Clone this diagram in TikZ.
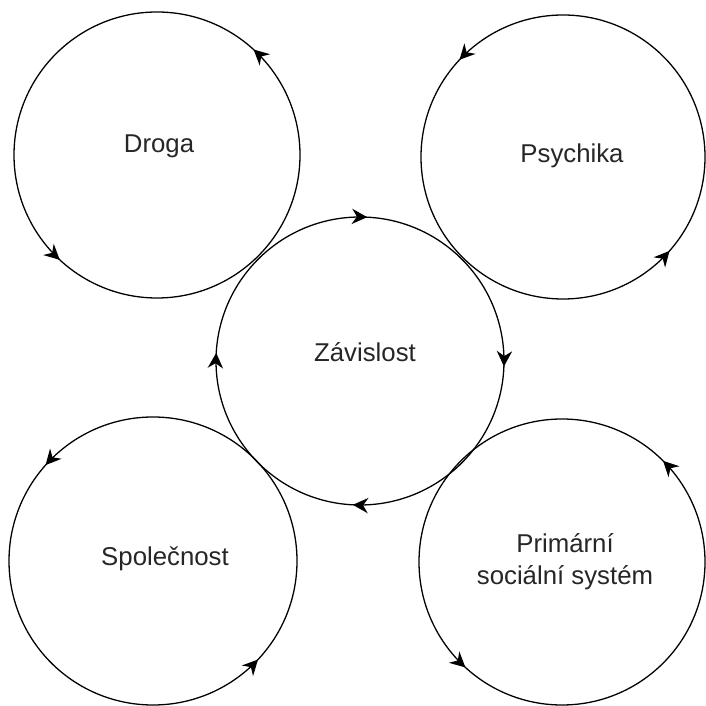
\documentclass[tikz,border=0pt]{standalone}
\usepackage{fontspec}
\setmainfont{Liberation Sans}
\usetikzlibrary{arrows.meta, decorations.markings, positioning}

\tikzset{
  ringtip/.tip = {Stealth[length=4.6mm, width=4.6mm, inset=1.5mm]},
  ring/.style = {line width=1.1pt},
  ccw/.style 2 args = {postaction={decorate, decoration={markings,
      mark=at position #1 with {\arrow{ringtip}},
      mark=at position #2 with {\arrow{ringtip}}}}},
  cw/.style = {postaction={decorate, decoration={markings,
      mark=at position 0.242 with {\arrowreversed{ringtip}},
      mark=at position 0.491 with {\arrowreversed{ringtip}},
      mark=at position 0.742 with {\arrowreversed{ringtip}},
      mark=at position 0.994 with {\arrowreversed{ringtip}}}}},
  word/.style = {font=\fontsize{22}{27}\selectfont, text=black!85, inner sep=0pt, align=center}
}

\begin{document}
\begin{tikzpicture}[x=0.03cm, y=0.03cm]
  \useasboundingbox (0,0) rectangle (706,705);
  % centres
  \coordinate (c-droga) at (157,550);
  \coordinate (c-psych) at (563,548);
  \coordinate (c-zav) at (360,344);
  \coordinate (c-spol) at (153,144);
  \coordinate (c-prim) at (562,143);

  \draw[ring, ccw={0.132}{0.631}] (c-droga) circle (143);
  \draw[ring, ccw={0.380}{0.885}] (c-psych) circle (142);
  \draw[ring, cw] (c-zav) circle (144);
  \draw[ring, ccw={0.384}{0.880}] (c-spol) circle (144);
  \draw[ring, ccw={0.125}{0.632}] (c-prim) circle (143);

  \node[word, anchor=base] (droga) at (159,552) {Droga};
  \node[word, anchor=base] (psychika) at (572,542) {Psychika};
  \node[word, anchor=base] (zavislost) at (365,343) {Závislost};
  \node[word, anchor=base] (spolecnost) at (165,139) {Společnost};
  \node[word] (primarni) at (565,143) {Primární\\sociální systém};
\end{tikzpicture}
\end{document}
